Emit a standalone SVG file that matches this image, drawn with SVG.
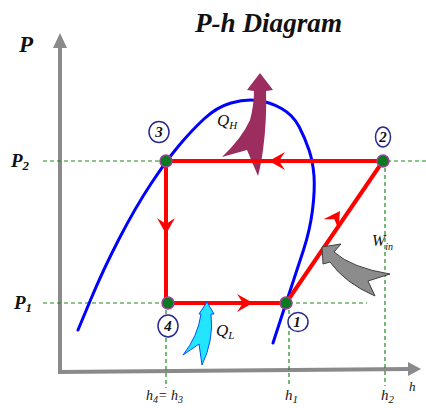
<svg xmlns="http://www.w3.org/2000/svg" width="426" height="408" viewBox="0 0 426 408">
<style>
.ser{font-family:"Liberation Serif","DejaVu Serif",serif;font-style:italic;fill:#111}
.bi{font-weight:bold}
.dash{stroke:#1a8c1a;stroke-width:1.2;stroke-dasharray:4,3;fill:none}
.cyc{stroke:#ff0000;stroke-width:4;fill:none;stroke-linecap:round}
.circ{fill:#fff;stroke:#2a2a90;stroke-width:1.5}
.dot{fill:#0a7a1f;stroke:#a040a0;stroke-width:1.5}
.num{font-family:"Liberation Serif","DejaVu Serif",serif;font-style:italic;font-weight:bold;font-size:15px;fill:#111;text-anchor:middle}
</style>
<defs>
<path id="ah" d="M0,0 L-16,-9 L-10,0 L-16,9 Z" fill="#ff0000"/>
</defs>
<rect width="426" height="408" fill="#fff"/>
<text id="title" class="ser bi" x="195" y="32" font-size="27" textLength="147" lengthAdjust="spacingAndGlyphs">P-h Diagram</text>
<g id="axes">
<line x1="60" y1="372" x2="60" y2="45" stroke="#8a8a8a" stroke-width="4"/>
<path d="M60,33 L67,48 L53,48 Z" fill="#8a8a8a"/>
<line x1="58" y1="372" x2="410" y2="369" stroke="#8a8a8a" stroke-width="4"/>
<path d="M421,369 L408,376 L408,362 Z" fill="#8a8a8a"/>
<text class="ser bi" x="19" y="52" font-size="23">P</text>
<text class="ser" x="409" y="391" font-size="13">h</text>
</g>
<g id="guides">
<line class="dash" x1="43" y1="161" x2="166" y2="161"/>
<line class="dash" x1="387" y1="161" x2="426" y2="161"/>
<line class="dash" x1="43" y1="303" x2="168" y2="303"/>
<line class="dash" x1="289" y1="303" x2="367" y2="303"/>
<line class="dash" x1="166" y1="303" x2="166" y2="388"/>
<line class="dash" x1="289" y1="303" x2="289" y2="384"/>
<line class="dash" x1="385" y1="161" x2="385" y2="386"/>
<text class="ser bi" x="11" y="167" font-size="19">P<tspan dy="3" font-size="13">2</tspan></text>
<text class="ser bi" x="14" y="309" font-size="19">P<tspan dy="3" font-size="13">1</tspan></text>
<text class="ser" x="146" y="400" font-size="14">h<tspan dy="3" font-size="10">4</tspan><tspan dy="-3">= h</tspan><tspan dy="3" font-size="10">3</tspan></text>
<text class="ser" x="285" y="400" font-size="15">h<tspan dy="3" font-size="11">1</tspan></text>
<text class="ser" x="381" y="400" font-size="15">h<tspan dy="3" font-size="11">2</tspan></text>
</g>
<g id="dome">
<path d="M78,330 L90.5,300 Q103,270 119,239 Q135,208 150.5,184.5 Q166,161 179,145.5 Q192,130 204.5,118.5 Q217,107 231,103 Q245,99 257.5,100.5 Q270,102 281.5,108.5 Q293,115 299,126.5 Q305,138 309,150 Q313,162 314,176 Q315,190 312.5,210 Q310,230 303.5,250 Q297,270 291.5,286.5 Q286,303 279.5,323 L273,343" fill="none" stroke="#0000ff" stroke-width="3" stroke-linecap="round"/>
</g>
<g id="heat-out">
<path d="M260,73 L273,90 L266,91 Q267,120 263,150 Q261,165 258,176 L247,150 L222,157 Q242,138 250,120 Q254,105 254,91 L247,90 Z" fill="#9b2d5f"/>
<text class="ser" x="217" y="126" font-size="17">Q<tspan dy="3" font-size="11">H</tspan></text>
</g>
<g id="connectors">
<line class="cyc" x1="166" y1="161" x2="383" y2="161"/>
<line class="cyc" x1="166" y1="161" x2="166" y2="303"/>
<line class="cyc" x1="166" y1="303" x2="286" y2="303"/>
<line class="cyc" x1="286" y1="303" x2="383" y2="161"/>
<use href="#ah" transform="translate(269,161) rotate(180)"/>
<use href="#ah" transform="translate(166,234) rotate(90)"/>
<use href="#ah" transform="translate(253,303)"/>
<use href="#ah" transform="translate(340,211) rotate(-55.9)"/>
</g>
<g id="heat-in">
<path d="M207,302 L214,314 L211,314 Q214,340 202,365 L199,344 L183,355 Q198,336 201,314 L199,314 Z" fill="#22e6ff" stroke="#0050ff" stroke-width="1"/>
<text class="ser" x="216" y="336" font-size="17">Q<tspan dy="3" font-size="11">L</tspan></text>
</g>
<g id="work-in">
<path d="M322,247 L341,244 L334,252 Q352,268 390,274 L368,281 L375,296 Q345,283 330,262 L323,264 Z" fill="#8c8c8c" stroke="#404040" stroke-width="1"/>
<text class="ser" x="372" y="246" font-size="16">W<tspan dy="4" font-size="10">in</tspan></text>
</g>
<g id="state3">
<ellipse class="circ" cx="159" cy="132" rx="10" ry="10.5"/>
<text class="num" x="159" y="137">3</text>
<circle class="dot" cx="166" cy="161" r="6"/>
</g>
<g id="state2">
<ellipse class="circ" cx="383" cy="137" rx="7.5" ry="10"/>
<text class="num" x="383" y="142">2</text>
<circle class="dot" cx="383" cy="161" r="6"/>
</g>
<g id="state4">
<ellipse class="circ" cx="168" cy="326" rx="10" ry="11"/>
<text class="num" x="168" y="331">4</text>
<circle class="dot" cx="168" cy="303" r="6"/>
</g>
<g id="state1">
<ellipse class="circ" cx="298" cy="322" rx="10" ry="9.5"/>
<text class="num" x="297" y="327">1</text>
<circle class="dot" cx="286" cy="303" r="6"/>
</g>
</svg>
